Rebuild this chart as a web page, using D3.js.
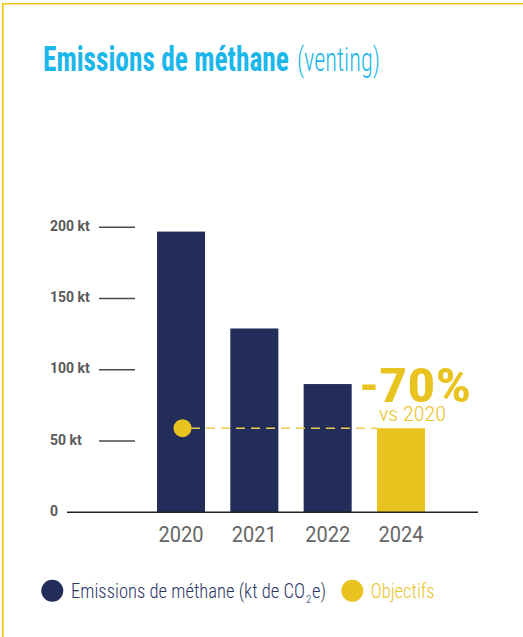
<!DOCTYPE html>
<html>
<head>
<meta charset="utf-8">
<script src="https://cdn.jsdelivr.net/npm/d3@7"></script>
<style>
  body { margin: 0; background: #fff; }
  svg { display: block; font-family: "Roboto Condensed", "Liberation Sans Narrow", "DejaVu Sans Condensed", Roboto, sans-serif; }
</style>
</head>
<body>
<div id="viz_container"></div>
<script>
// data
const years = ["2020", "2021", "2022", "2024"];
const values = [197, 129, 90, 59];
const kinds = ["emissions", "emissions", "emissions", "objectif"];
const yTicks = [0, 50, 100, 150, 200];
const yTickLabels = ["0", "50 kt", "100 kt", "150 kt", "200 kt"];
const reduction = "-70%";
const reductionRef = "vs 2020";

const navy = "#232d5a";
const yellow = "#e9c31f";
const cyan = "#1cb7ea";

const width = 523, height = 637;

const svg = d3.select("#viz_container")
    .append("svg")
    .attr("width", width)
    .attr("height", height);

// squeeze a text horizontally so it spans w pixels (the original uses a condensed face)
function fitText(sel, x, y, w) {
    sel.attr("x", 0).attr("y", 0);
    const n = sel.node().getComputedTextLength();
    sel.attr("transform", `translate(${x},${y}) scale(${w / n},1)`);
    return sel;
}

// yellow frame (top and left only)
svg.append("path")
    .attr("d", `M2.75,${height} V3.75 H${width}`)
    .attr("fill", "none")
    .attr("stroke", "#f2c400")
    .attr("stroke-width", 1.6);

// title
fitText(svg.append("text")
    .attr("fill", cyan)
    .attr("font-weight", 700)
    .style("font-size", "35px")
    .text("Emissions de méthane"), 43, 70.5, 246);
fitText(svg.append("text")
    .attr("fill", cyan)
    .attr("font-weight", 300)
    .style("font-size", "33px")
    .text("(venting)"), 297, 70.5, 83);

// scales
const xScale = d3.scaleBand()
    .domain(years)
    .range([157, 425])
    .paddingInner(0.345)
    .paddingOuter(0);

const yScale = d3.scaleLinear()
    .domain([0, 200])
    .range([512.3, 227.3]);

// y ticks: short lines and labels
const ticks = svg.append("g")
    .selectAll("g")
    .data(yTicks)
    .join("g")
    .attr("transform", d => `translate(0,${yScale(d)})`);
ticks.filter(d => d > 0)
    .append("line")
    .attr("x1", 99)
    .attr("x2", 135)
    .attr("stroke", "#4a4a4a")
    .attr("stroke-width", 1.5);
ticks.append("text")
    .attr("x", 50)
    .attr("y", 3.5)
    .attr("fill", "#5a5a5a")
    .attr("font-weight", 700)
    .style("font-family", "Roboto, sans-serif")
    .style("font-size", "14px")
    .text((d, i) => yTickLabels[i]);

// bars
svg.append("g")
    .selectAll("rect")
    .data(years)
    .join("rect")
    .attr("x", d => xScale(d))
    .attr("y", (d, i) => yScale(values[i]))
    .attr("width", xScale.bandwidth())
    .attr("height", (d, i) => yScale(0) - yScale(values[i]))
    .attr("fill", (d, i) => kinds[i] === "objectif" ? yellow : navy);

// x axis baseline
svg.append("line")
    .attr("x1", 67)
    .attr("x2", 478)
    .attr("y1", yScale(0))
    .attr("y2", yScale(0))
    .attr("stroke", "#222")
    .attr("stroke-width", 1.6);

// x labels
svg.append("g")
    .selectAll("text")
    .data(years)
    .join("text")
    .attr("text-anchor", "middle")
    .attr("fill", "#666")
    .style("font-family", "Roboto, sans-serif")
    .style("font-size", "22px")
    .text(d => d)
    .each(function (d) {
        fitText(d3.select(this), xScale(d) + xScale.bandwidth() / 2, 541.5, 45);
    });

// objective marker: dot on 2020 and dashed line to 2024 bar
const target = values[kinds.indexOf("objectif")];
const targetYear = years[kinds.indexOf("objectif")];
const x0 = xScale(years[0]) + xScale.bandwidth() / 2;
svg.append("line")
    .attr("x1", x0 + 10)
    .attr("x2", xScale(targetYear))
    .attr("y1", yScale(target))
    .attr("y2", yScale(target))
    .attr("stroke", "#eccb4c")
    .attr("stroke-width", 1.5)
    .attr("stroke-dasharray", "9,6");
svg.append("circle")
    .attr("cx", x0 + 1.5)
    .attr("cy", yScale(target))
    .attr("r", 9)
    .attr("fill", yellow);

// reduction annotation
fitText(svg.append("text")
    .attr("fill", yellow)
    .attr("font-weight", 700)
    .style("font-size", "49px")
    .text(reduction), 359, 401.5, 112);
fitText(svg.append("text")
    .attr("fill", yellow)
    .attr("font-weight", 300)
    .style("font-size", "21px")
    .text(reductionRef), 379, 421, 67);

// legend
svg.append("circle")
    .attr("cx", 52.3)
    .attr("cy", 590.7)
    .attr("r", 11)
    .attr("fill", navy);
fitText(svg.append("text")
    .attr("fill", "#2b3566")
    .attr("font-weight", 300)
    .style("font-size", "21px")
    .text("Emissions de méthane (kt de CO"), 71, 598, 234);
svg.append("text")
    .attr("x", 306)
    .attr("y", 603)
    .attr("fill", "#2b3566")
    .attr("font-weight", 300)
    .style("font-size", "11px")
    .text("2");
fitText(svg.append("text")
    .attr("fill", "#2b3566")
    .attr("font-weight", 300)
    .style("font-size", "21px")
    .text("e)"), 312, 598, 14);

svg.append("circle")
    .attr("cx", 352.3)
    .attr("cy", 590.7)
    .attr("r", 11)
    .attr("fill", yellow);
fitText(svg.append("text")
    .attr("fill", yellow)
    .attr("font-weight", 300)
    .style("font-size", "21px")
    .text("Objectifs"), 370.7, 598, 64);
</script>
</body>
</html>
